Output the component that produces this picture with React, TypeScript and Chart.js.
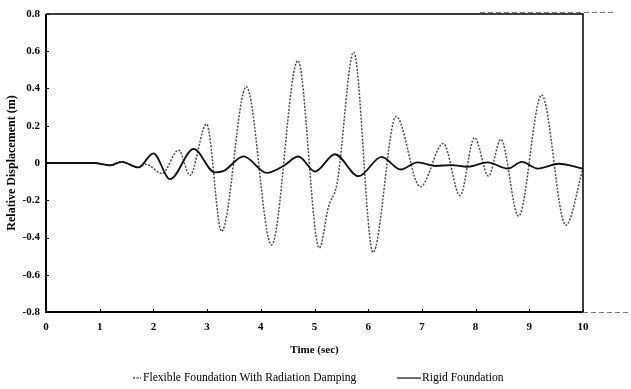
import React, { useEffect, useRef } from 'react';
import { Chart, registerables } from 'chart.js';

Chart.register(...registerables);

// ---- Data ----
const flexTime = [0, 0.9, 1.19, 1.41, 1.72, 1.86, 2.16, 2.47, 2.68, 2.99, 3.27, 3.73, 4.2, 4.69, 5.09, 5.26, 5.42, 5.73, 6.09, 6.52, 6.97, 7.4, 7.71, 7.98, 8.24, 8.47, 8.8, 9.23, 9.68, 10];
const flexDisp = [0, 0, -0.014, 0.007, -0.024, -0.007, -0.056, 0.069, -0.066, 0.209, -0.367, 0.41, -0.44, 0.55, -0.456, -0.235, -0.11, 0.595, -0.48, 0.25, -0.128, 0.105, -0.175, 0.136, -0.07, 0.127, -0.285, 0.365, -0.334, -0.03];

const rigidTime = [0, 0.9, 1.19, 1.41, 1.72, 2.0, 2.31, 2.75, 3.14, 3.3, 3.68, 4.11, 4.42, 4.7, 5.01, 5.38, 5.82, 6.25, 6.6, 6.92, 7.25, 7.55, 7.85, 8.22, 8.6, 8.86, 9.16, 9.55, 10];
const rigidDisp = [0, 0, -0.012, 0.006, -0.024, 0.052, -0.087, 0.076, -0.05, -0.044, 0.036, -0.053, -0.016, 0.035, -0.046, 0.047, -0.071, 0.033, -0.035, 0.003, -0.016, -0.011, -0.02, 0.003, -0.03, 0.006, -0.03, -0.004, -0.03];

const xTickValues = [0, 1, 2, 3, 4, 5, 6, 7, 8, 9, 10];
const yTickValues = [-0.8, -0.6, -0.4, -0.2, 0, 0.2, 0.4, 0.6, 0.8];
const seriesNames = ['Flexible Foundation With Radiation Damping', 'Rigid Foundation'];
const xTitle = 'Time (sec)';
const yTitle = 'Relative Displacement (m)';

const FONT = '"Liberation Serif", "Times New Roman", serif';

export default function App() {
  const ref = useRef<HTMLCanvasElement>(null);

  useEffect(() => {
    if (!ref.current) return;

    const framePlugin = {
      id: 'framePlugin',
      afterDraw(chart: any) {
        const { ctx, chartArea } = chart;
        const { left, right, top, bottom } = chartArea;
        const xs = chart.scales.x;
        const ys = chart.scales.y;
        ctx.save();
        ctx.strokeStyle = '#000';
        ctx.lineWidth = 2;
        ctx.beginPath();
        ctx.moveTo(left, top);
        ctx.lineTo(left, bottom);
        ctx.lineTo(right, bottom);
        ctx.stroke();
        ctx.lineWidth = 1.5;
        ctx.beginPath();
        ctx.moveTo(left, top);
        ctx.lineTo(right, top);
        ctx.lineTo(right, bottom);
        ctx.stroke();
        // inner ticks
        ctx.lineWidth = 1;
        xTickValues.forEach((v) => {
          const px = Math.round(xs.getPixelForValue(v)) + 0.5;
          ctx.beginPath();
          ctx.moveTo(px, bottom);
          ctx.lineTo(px, bottom - 3);
          ctx.stroke();
        });
        yTickValues.forEach((v) => {
          const py = Math.round(ys.getPixelForValue(v)) + 0.5;
          ctx.beginPath();
          ctx.moveTo(left, py);
          ctx.lineTo(left + 3, py);
          ctx.stroke();
        });
        // faint dashed extensions (as in the scan)
        ctx.setLineDash([5, 3]);
        ctx.strokeStyle = '#777';
        ctx.lineWidth = 1;
        ctx.beginPath();
        ctx.moveTo(480, top - 1.5);
        ctx.lineTo(615, top - 1.5);
        ctx.moveTo(right, bottom + 0.5);
        ctx.lineTo(631, bottom + 0.5);
        ctx.stroke();

        // legend
        const ly = 378;
        const ds = chart.data.datasets;
        ctx.font = '11.6px ' + FONT;
        ctx.textBaseline = 'middle';
        ctx.textAlign = 'left';
        ctx.fillStyle = '#000';
        // item 1 (dotted)
        ctx.setLineDash(ds[0].borderDash);
        ctx.strokeStyle = ds[0].borderColor;
        ctx.lineWidth = 1.3;
        ctx.beginPath();
        ctx.moveTo(133, ly);
        ctx.lineTo(141, ly);
        ctx.stroke();
        ctx.fillText(ds[0].label, 143, ly);
        // item 2 (solid)
        ctx.setLineDash([]);
        ctx.strokeStyle = ds[1].borderColor;
        ctx.lineWidth = 1.2;
        ctx.beginPath();
        ctx.moveTo(397, ly);
        ctx.lineTo(421, ly);
        ctx.stroke();
        ctx.fillText(ds[1].label, 422, ly);
        ctx.restore();
      },
    };

    const chart = new Chart(ref.current, {
      type: 'line',
      data: {
        datasets: [
          {
            label: seriesNames[0],
            data: flexTime.map((t, i) => ({ x: t, y: flexDisp[i] })),
            borderColor: '#4a4a4a',
            borderWidth: 1.5,
            borderDash: [2, 1.5],
            pointRadius: 0,
            cubicInterpolationMode: 'monotone',
            fill: false,
            order: 1,
          },
          {
            label: seriesNames[1],
            data: rigidTime.map((t, i) => ({ x: t, y: rigidDisp[i] })),
            borderColor: '#111',
            borderWidth: 1.8,
            pointRadius: 0,
            cubicInterpolationMode: 'monotone',
            fill: false,
            order: 0,
          },
        ],
      },
      options: {
        animation: false,
        responsive: false,
        devicePixelRatio: 1,
        layout: { padding: { top: 14, right: 48, bottom: 32, left: 0 } },
        plugins: {
          legend: { display: false },
          tooltip: { enabled: false },
        },
        scales: {
          x: {
            type: 'linear',
            min: 0,
            max: 10,
            afterFit: (s: any) => { s.height = 45; },
            afterBuildTicks: (s: any) => { s.ticks = xTickValues.map((v) => ({ value: v })); },
            grid: { display: false, drawTicks: false },
            border: { display: false },
            ticks: {
              padding: 9,
              color: '#000',
              font: { family: FONT, size: 11, weight: 'bold' },
              callback: (v: any) => String(v),
              maxRotation: 0,
            },
            title: {
              display: true,
              text: xTitle,
              color: '#000',
              padding: { top: 0, bottom: 0 },
              font: { family: FONT, size: 11, weight: 'bold' },
            },
          },
          y: {
            type: 'linear',
            min: -0.8,
            max: 0.8,
            afterFit: (s: any) => { s.width = 46; },
            afterBuildTicks: (s: any) => { s.ticks = yTickValues.map((v) => ({ value: v })); },
            grid: { display: false, drawTicks: false },
            border: { display: false },
            ticks: {
              padding: 6,
              color: '#000',
              font: { family: FONT, size: 11, weight: 'bold' },
              callback: (v: any) => {
                const r = Math.round(Number(v) * 10) / 10;
                return r === 0 ? '0' : r.toFixed(1);
              },
            },
            title: {
              display: true,
              text: yTitle,
              color: '#000',
              padding: { top: 5, bottom: 0 },
              font: { family: FONT, size: 12, weight: 'bold' },
            },
          },
        },
      },
      plugins: [framePlugin],
    } as any);

    return () => chart.destroy();
  }, []);

  return (
    <div style={{ position: 'fixed', left: 0, top: 0, width: 631, height: 389, background: '#fff' }}>
      <canvas ref={ref} width={631} height={389} style={{ display: 'block', width: 631, height: 389 }} />
    </div>
  );
}
